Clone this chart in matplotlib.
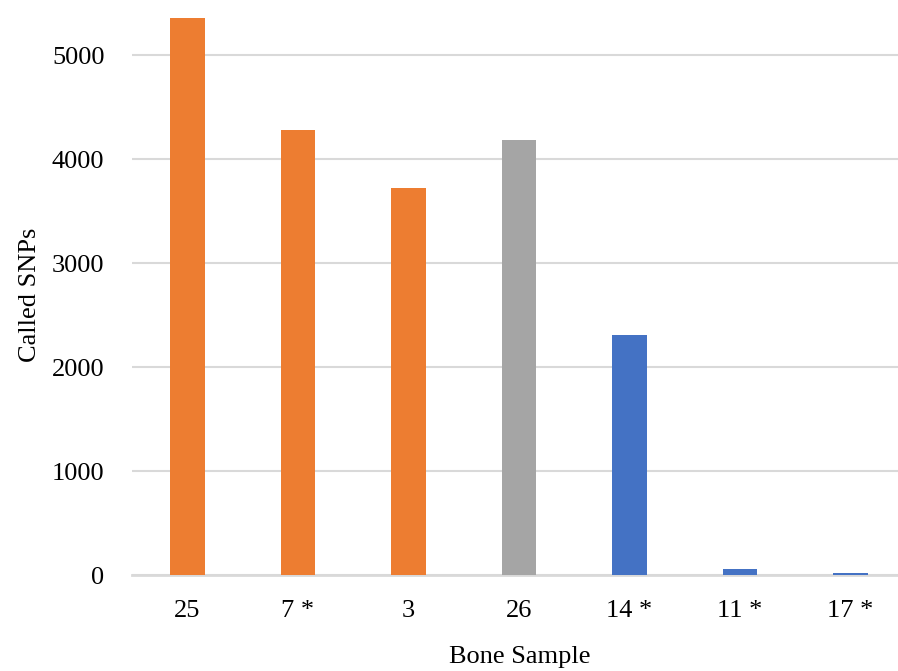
import matplotlib
matplotlib.use("Agg")
import matplotlib.pyplot as plt

categories = ["25", "7 *", "3", "26", "14 *", "11 *", "17 *"]
values = [5360, 4280, 3720, 4185, 2310, 55, 15]
colors = ["#ED7D31", "#ED7D31", "#ED7D31", "#A5A5A5", "#4472C4", "#4472C4", "#4472C4"]
yticks = [0, 1000, 2000, 3000, 4000, 5000]

plt.rcParams['font.family'] = ['Liberation Serif', 'DejaVu Serif']

fig = plt.figure(figsize=(8.98, 6.71), dpi=100)
ax = fig.add_axes([132.25 / 898, 1 - 575 / 671, 1 - 132.25 / 898, 575 / 671])

x = list(range(len(categories)))
ax.bar(x, values, width=0.316, color=colors, zorder=3)

ax.set_xlim(-0.5, -0.5 + (898 - 132.25) / 110.5)
ax.set_ylim(0, 5529)
ax.set_yticks(yticks)
ax.set_yticklabels([str(v) for v in yticks], fontsize=19)
ax.set_xticks(x)
ax.set_xticklabels(categories, fontsize=19)

ax.yaxis.grid(True, color="#D9D9D9", linewidth=1.5, zorder=0)
ax.set_axisbelow(True)
for s in ["top", "right", "left"]:
    ax.spines[s].set_visible(False)
ax.spines["bottom"].set_color("#D9D9D9")
ax.spines["bottom"].set_linewidth(2)
ax.tick_params(axis="both", length=0)
ax.tick_params(axis="y", pad=20)
ax.tick_params(axis="x", pad=18)

fig.text(520 / 898, 1 - 657 / 671, "Bone Sample", fontsize=19, ha="center", va="center")
fig.text(30 / 898, 1 - 295 / 671, "Called SNPs", fontsize=19, ha="center", va="center",
         rotation=90)

fig.savefig("out.png", dpi=100)
